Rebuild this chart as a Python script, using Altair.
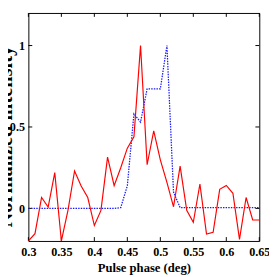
import altair as alt
import pandas as pd

phase = [0.30, 0.31, 0.32, 0.33, 0.34, 0.35, 0.36, 0.37, 0.38, 0.39,
         0.40, 0.41, 0.42, 0.43, 0.44, 0.45, 0.46, 0.47, 0.48, 0.49,
         0.50, 0.51, 0.52, 0.53, 0.54, 0.55, 0.56, 0.57, 0.58, 0.59,
         0.60, 0.61, 0.62, 0.63, 0.64, 0.65]
red = [-0.20, -0.155, 0.067, 0.008, 0.22, -0.20, -0.012, 0.23, 0.137, 0.067,
       -0.105, -0.012, 0.315, 0.14, 0.25, 0.37, 0.44, 1.0, 0.268, 0.476,
       0.298, 0.16, 0.01, 0.26, -0.012, -0.085, 0.15, -0.157, -0.147, 0.117,
       0.141, 0.093, -0.19, 0.067, -0.071, -0.071]
blue = [0.0, 0.0, 0.0, 0.0, 0.0, 0.0, 0.0, 0.0, 0.0, 0.0,
        0.0, 0.0, 0.0, 0.0, 0.005, 0.14, 0.58, 0.53, 0.734, 0.734,
        0.734, 1.0, 0.10, 0.005, 0.005, 0.005, 0.005, 0.005, 0.005, 0.005,
        0.005, 0.005, 0.005, 0.005, 0.005, 0.005]

x_ticks = [0.3, 0.35, 0.4, 0.45, 0.5, 0.55, 0.6, 0.65]
y_ticks = [0, 0.5, 1]

W, H = 238, 235
FONT = "Liberation Serif"

df = pd.DataFrame({"phase": phase, "red": red, "blue": blue})
xt = pd.DataFrame({"t": x_ticks})
yt = pd.DataFrame({"t": y_ticks})

xs = alt.Scale(domain=[0.3, 0.65], nice=False, zero=False)
ys = alt.Scale(domain=[-0.2, 1.2], nice=False, zero=False)

xaxis = alt.Axis(values=x_ticks, format=".2~f", grid=False, ticks=False, domain=False,
                 labelFont=FONT, labelFontWeight="bold", labelFontSize=12.5, labelColor="black",
                 labelPadding=5, labelFlush=False, labelOverlap=False,
                 title="Pulse phase (deg)", titleFont=FONT, titleFontWeight="bold",
                 titleFontSize=13, titleColor="black", titleBaseline="alphabetic", titleY=31)
yaxis = alt.Axis(values=y_ticks, format="~g", grid=False, ticks=False, domain=False,
                 labelFont=FONT, labelFontWeight="bold", labelFontSize=12.5, labelColor="black",
                 labelPadding=4, labelFlush=False, labelOverlap=False,
                 title="Normalized intensity", titleFont=FONT, titleFontWeight="bold",
                 titleFontSize=21, titleColor="black", titleBaseline="alphabetic",
                 titleX=-17, titleY=127)

base = alt.Chart(df)

red_line = base.mark_line(color="#ff0000", strokeWidth=1.2, clip=True).encode(
    x=alt.X("phase:Q", scale=xs, axis=xaxis),
    y=alt.Y("red:Q", scale=ys, axis=yaxis),
)
blue_line = base.mark_line(color="#1a1aff", strokeWidth=1.3, strokeDash=[1.5, 1.2], clip=True).encode(
    x=alt.X("phase:Q", scale=xs, axis=xaxis),
    y=alt.Y("blue:Q", scale=ys, axis=yaxis),
)

tb = alt.Chart(xt).mark_rule(color="black", strokeWidth=1).encode(
    x=alt.X("t:Q", scale=xs, axis=xaxis), y=alt.value(H), y2=alt.value(H - 4))
tt = alt.Chart(xt).mark_rule(color="black", strokeWidth=1).encode(
    x=alt.X("t:Q", scale=xs, axis=xaxis), y=alt.value(0), y2=alt.value(4))
tl = alt.Chart(yt).mark_rule(color="black", strokeWidth=1).encode(
    y=alt.Y("t:Q", scale=ys, axis=yaxis), x=alt.value(0), x2=alt.value(4))
tr = alt.Chart(yt).mark_rule(color="black", strokeWidth=1).encode(
    y=alt.Y("t:Q", scale=ys, axis=yaxis), x=alt.value(W), x2=alt.value(W - 4))

chart = alt.layer(tb, tt, tl, tr, blue_line, red_line).properties(
    width=W, height=H,
    autosize=alt.AutoSizeParams(type="none"),
    padding={"left": 21, "top": 1, "right": 10, "bottom": 33},
    background="white",
).configure_view(stroke="black", strokeWidth=1)

chart.save("out.html", embed_options={"renderer": "svg", "actions": False})
